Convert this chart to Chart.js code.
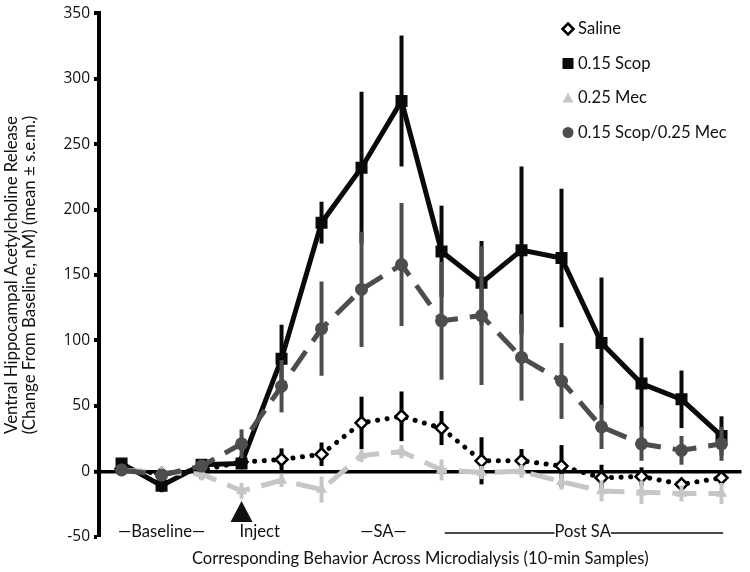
<!DOCTYPE html>
<html>
<head>
<meta charset="utf-8">
<script src="https://cdn.jsdelivr.net/npm/chart.js@4.4.0/dist/chart.umd.min.js"></script>
<style>
  html, body { margin: 0; padding: 0; background: #fff; }
  #wrap { width: 750px; height: 572px; }
</style>
</head>
<body>
<div id="wrap"><canvas id="achChart" width="750" height="572"></canvas></div>
<script>
// 10-min microdialysis samples
const samples = [1, 2, 3, 4, 5, 6, 7, 8, 9, 10, 11, 12, 13, 14, 15, 16];
const yTicks = [-50, 0, 50, 100, 150, 200, 250, 300, 350];

const saline = [2, -2, 1, 7, 9, 13, 37, 42, 33, 8, 8, 4, -5, -4, -10, -5];
const salineErr = [3, 3, 7, 5, 8.5, 9, 20, 19, 13, 18, 9, 16, 10, 7, 4, 5];

const scop = [6, -11, 5, 6, 86, 190, 232, 283, 168, 144, 169, 163, 98, 67, 55, 27];
const scopErr = [3, 5, 4, 4, 26, 16, 58, 50, 35, 32, 64, 53, 50, 35, 22, 15];

const mec = [1, -1, -2, -15, -7, -14, 12, 15, 1, -1, 0, -8, -15, -16, -17, -17];
const mecErr = [3, 4, 5, 6, 5, 10, 5, 5, 8, 5, 5, 6, 8, 9, 6, 8];

const scopMec = [1, -3, 4, 21, 65, 109, 139, 158, 115, 119, 87, 69, 34, 21, 16, 21];
const scopMecErr = [3, 4, 4, 11, 20, 36, 44, 47, 45, 53, 33, 29, 17, 13, 11, 13];

const FONT = 'Lato';
const TXT = '#111';

const toPoints = arr => samples.map((s, i) => ({ x: s, y: arr[i] }));

// vertical s.e.m. bars, drawn just under each series' own line
const errorBars = {
  id: 'errorBars',
  beforeDatasetDraw(chart, args) {
    const ds = chart.data.datasets[args.index];
    if (!ds.errors) return;
    const y = chart.scales.y;
    const ctx = chart.ctx;
    ctx.save();
    ctx.strokeStyle = ds.errorColor;
    ctx.lineWidth = 4;
    args.meta.data.forEach((pt, i) => {
      const v = ds.data[i].y;
      const e = ds.errors[i];
      ctx.beginPath();
      ctx.moveTo(pt.x, y.getPixelForValue(v + e));
      ctx.lineTo(pt.x, y.getPixelForValue(v - e));
      ctx.stroke();
    });
    ctx.restore();
  }
};

function marker(ctx, style, x, y, r, fill, stroke, lw) {
  ctx.beginPath();
  if (style === 'rectRot') {
    ctx.moveTo(x, y - r); ctx.lineTo(x + r, y); ctx.lineTo(x, y + r); ctx.lineTo(x - r, y); ctx.closePath();
  } else if (style === 'rect') {
    ctx.rect(x - r, y - r, 2 * r, 2 * r);
  } else if (style === 'triangle') {
    ctx.moveTo(x, y - r); ctx.lineTo(x + r, y + r * 0.8); ctx.lineTo(x - r, y + r * 0.8); ctx.closePath();
  } else {
    ctx.arc(x, y, r, 0, Math.PI * 2);
  }
  ctx.fillStyle = fill;
  ctx.fill();
  if (lw) { ctx.lineWidth = lw; ctx.strokeStyle = stroke; ctx.stroke(); }
}

const legendBox = {
  id: 'legendBox',
  afterDraw(chart) {
    const ctx = chart.ctx;
    ctx.save();
    ctx.font = '16.6px ' + FONT;
    ctx.textBaseline = 'middle';
    ctx.textAlign = 'left';
    chart.data.datasets.forEach((ds, i) => {
      const y = 29 + i * 34.5;
      marker(ctx, ds.pointStyle, 568, y, 5.5, ds.pointBackgroundColor, ds.pointBorderColor, ds.pointBorderWidth);
      ctx.fillStyle = TXT;
      ctx.fillText(ds.label, 578, y);
    });
    ctx.restore();
  }
};

const phaseLabels = {
  id: 'phaseLabels',
  afterDraw(chart) {
    const { ctx, scales: { x }, chartArea } = chart;
    const yb = 532;
    ctx.save();
    ctx.font = '16.6px ' + FONT;
    ctx.fillStyle = TXT;
    ctx.strokeStyle = TXT;
    ctx.textBaseline = 'middle';
    ctx.textAlign = 'center';
    ctx.fillText('\u2014Baseline\u2014', x.getPixelForValue(2), yb);
    ctx.fillText('\u2014SA\u2014', x.getPixelForValue(7.55), yb);

    ctx.textAlign = 'left';
    ctx.fillText('Inject', x.getPixelForValue(3.95), yb);

    // injection arrowhead
    const ix = x.getPixelForValue(4);
    ctx.beginPath();
    ctx.moveTo(ix, 501);
    ctx.lineTo(ix + 11, 522);
    ctx.lineTo(ix - 11, 522);
    ctx.closePath();
    ctx.fill();

    // Post SA bracket
    const label = 'Post SA';
    const cx = x.getPixelForValue(12.53);
    const w = ctx.measureText(label).width;
    ctx.textAlign = 'center';
    ctx.fillText(label, cx, yb);
    ctx.lineWidth = 1.5;
    ctx.beginPath();
    ctx.moveTo(x.getPixelForValue(9.08), yb + 1);
    ctx.lineTo(cx - w / 2, yb + 1);
    ctx.moveTo(cx + w / 2, yb + 1);
    ctx.lineTo(x.getPixelForValue(16.04), yb + 1);
    ctx.stroke();

    ctx.fillText('Corresponding Behavior Across Microdialysis (10-min Samples)',
      (chartArea.left + chartArea.right) / 2, 559);
    ctx.restore();
  }
};

const whiteBg = {
  id: 'whiteBg',
  beforeDraw(chart) {
    const ctx = chart.ctx;
    ctx.save();
    ctx.fillStyle = '#fff';
    ctx.fillRect(0, 0, chart.width, chart.height);
    ctx.restore();
  }
};

new Chart(document.getElementById('achChart'), {
  type: 'line',
  data: {
    datasets: [
      {
        label: 'Saline',
        data: toPoints(saline),
        errors: salineErr,
        errorColor: '#000',
        borderColor: '#000',
        borderWidth: 5,
        borderDash: [0.1, 9.5],
        borderCapStyle: 'round',
        pointStyle: 'rectRot',
        pointRadius: 6,
        pointBackgroundColor: '#fff',
        pointBorderColor: '#000',
        pointBorderWidth: 2.5,
        order: 4
      },
      {
        label: '0.15 Scop',
        data: toPoints(scop),
        errors: scopErr,
        errorColor: '#0a0a0a',
        borderColor: '#0a0a0a',
        borderWidth: 5,
        pointStyle: 'rect',
        pointRadius: 8.5,
        pointBackgroundColor: '#0a0a0a',
        pointBorderColor: '#0a0a0a',
        pointBorderWidth: 0,
        order: 3
      },
      {
        label: '0.25 Mec',
        data: toPoints(mec),
        errors: mecErr,
        errorColor: '#c6c6c6',
        borderColor: '#c6c6c6',
        borderWidth: 5,
        borderDash: [24, 12],
        pointStyle: 'triangle',
        pointRadius: 6.5,
        pointBackgroundColor: '#c6c6c6',
        pointBorderColor: '#c6c6c6',
        pointBorderWidth: 0,
        order: 2
      },
      {
        label: '0.15 Scop/0.25 Mec',
        data: toPoints(scopMec),
        errors: scopMecErr,
        errorColor: '#4d4d4d',
        borderColor: '#4d4d4d',
        borderWidth: 5,
        borderDash: [24, 12],
        pointStyle: 'circle',
        pointRadius: 6.5,
        pointBackgroundColor: '#4d4d4d',
        pointBorderColor: '#4d4d4d',
        pointBorderWidth: 0,
        order: 1
      }
    ]
  },
  options: {
    responsive: false,
    animation: false,
    devicePixelRatio: 1,
    layout: { padding: { left: 0, right: 5, top: 11.7, bottom: 35.3 } },
    plugins: {
      legend: { display: false },
      tooltip: { enabled: false }
    },
    elements: { line: { tension: 0 } },
    scales: {
      x: {
        type: 'linear',
        display: false,
        min: 0.436,
        max: 16.5
      },
      y: {
        min: -50,
        max: 350,
        afterBuildTicks(scale) {
          scale.ticks = yTicks.map(v => ({ value: v }));
        },
        afterFit(scale) {
          scale.width = 99;
        },
        border: { display: true, color: '#000', width: 4 },
        grid: {
          drawOnChartArea: true,
          drawTicks: true,
          tickLength: 5,
          tickWidth: 4,
          tickColor: '#000',
          color: ctx => (ctx.tick && ctx.tick.value === 0 ? '#000' : 'rgba(0,0,0,0)'),
          lineWidth: ctx => (ctx.tick && ctx.tick.value === 0 ? 3.5 : 0)
        },
        ticks: {
          color: TXT,
          font: { family: 'Open Sans', size: 15.5 },
          padding: 4
        },
        title: {
          display: true,
          text: ['Ventral Hippocampal Acetylcholine Release', '(Change From Baseline, nM) (mean \u00b1 s.e.m.)'],
          color: TXT,
          font: { family: FONT, size: 16.8, lineHeight: 1.1 },
          padding: { top: 2, bottom: 4 }
        }
      }
    }
  },
  plugins: [whiteBg, errorBars, legendBox, phaseLabels]
});
</script>
</body>
</html>
